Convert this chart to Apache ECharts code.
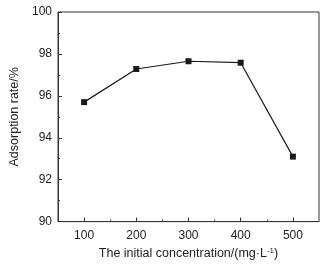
<!DOCTYPE html>
<html>
<head>
<meta charset="utf-8">
<script src="https://cdn.jsdelivr.net/npm/echarts@6/dist/echarts.min.js"></script>
<style>
  html, body { margin: 0; padding: 0; background: #fff; }
  #chart { width: 327px; height: 265px; }
</style>
</head>
<body>
<div id="chart"></div>
<script>
// data
const concentrations = [100, 200, 300, 400, 500];
const adsorptionRate = [95.7, 97.28, 97.65, 97.58, 93.1];
const xMajorTicks = [100, 200, 300, 400, 500];
const xMinorTicks = [150, 250, 350, 450];

const chart = echarts.init(document.getElementById('chart'));

const textColor = '#222';
const lineColor = '#333';

const option = {
  backgroundColor: '#fff',
  animation: false,
  grid: {
    left: 58, top: 12, right: 8, bottom: 41,
    show: true,
    borderColor: lineColor,
    borderWidth: 1
  },
  xAxis: [{
    type: 'value',
    min: 50,
    max: 550,
    name: 'The initial concentration/(mg·L{sup|-1})',
    nameLocation: 'middle',
    nameGap: 22,
    nameTextStyle: {
      color: textColor, fontSize: 12.5, fontFamily: 'Liberation Sans, Arial',
      rich: { sup: { fontSize: 8, verticalAlign: 'top', padding: [0, 0, 6, 0], color: textColor, fontFamily: 'Liberation Sans, Arial' } }
    },
    axisLine: { show: true, lineStyle: { color: lineColor, width: 1 } },
    axisTick: { show: true, inside: true, length: 4, customValues: xMajorTicks, lineStyle: { color: lineColor } },
    axisLabel: { customValues: xMajorTicks, color: textColor, fontSize: 12, fontFamily: 'Liberation Sans, Arial', margin: 8 },
    splitLine: { show: false }
  }, {
    type: 'value',
    min: 50,
    max: 550,
    position: 'bottom',
    axisLine: { show: false },
    axisTick: { show: true, inside: true, length: 2, customValues: xMinorTicks, lineStyle: { color: lineColor } },
    axisLabel: { show: false },
    splitLine: { show: false }
  }],
  yAxis: {
    type: 'value',
    min: 90,
    max: 100,
    interval: 2,
    name: 'Adsorption rate/%',
    nameLocation: 'middle',
    nameGap: 30,
    nameTextStyle: { color: textColor, fontSize: 12.5, fontFamily: 'Liberation Sans, Arial' },
    axisLine: { show: true, lineStyle: { color: lineColor, width: 1 } },
    axisTick: { show: true, inside: true, length: 4, lineStyle: { color: lineColor } },
    minorTick: { show: true, splitNumber: 2, length: 2, lineStyle: { color: lineColor } },
    axisLabel: { color: textColor, fontSize: 12, fontFamily: 'Liberation Sans, Arial', margin: 6 },
    splitLine: { show: false }
  },
  series: [{
    type: 'line',
    data: concentrations.map((c, i) => [c, adsorptionRate[i]]),
    symbol: 'rect',
    symbolSize: 6,
    lineStyle: { color: '#1a1a1a', width: 1.2 },
    itemStyle: { color: '#1a1a1a' }
  }]
};

chart.setOption(option);
</script>
</body>
</html>
